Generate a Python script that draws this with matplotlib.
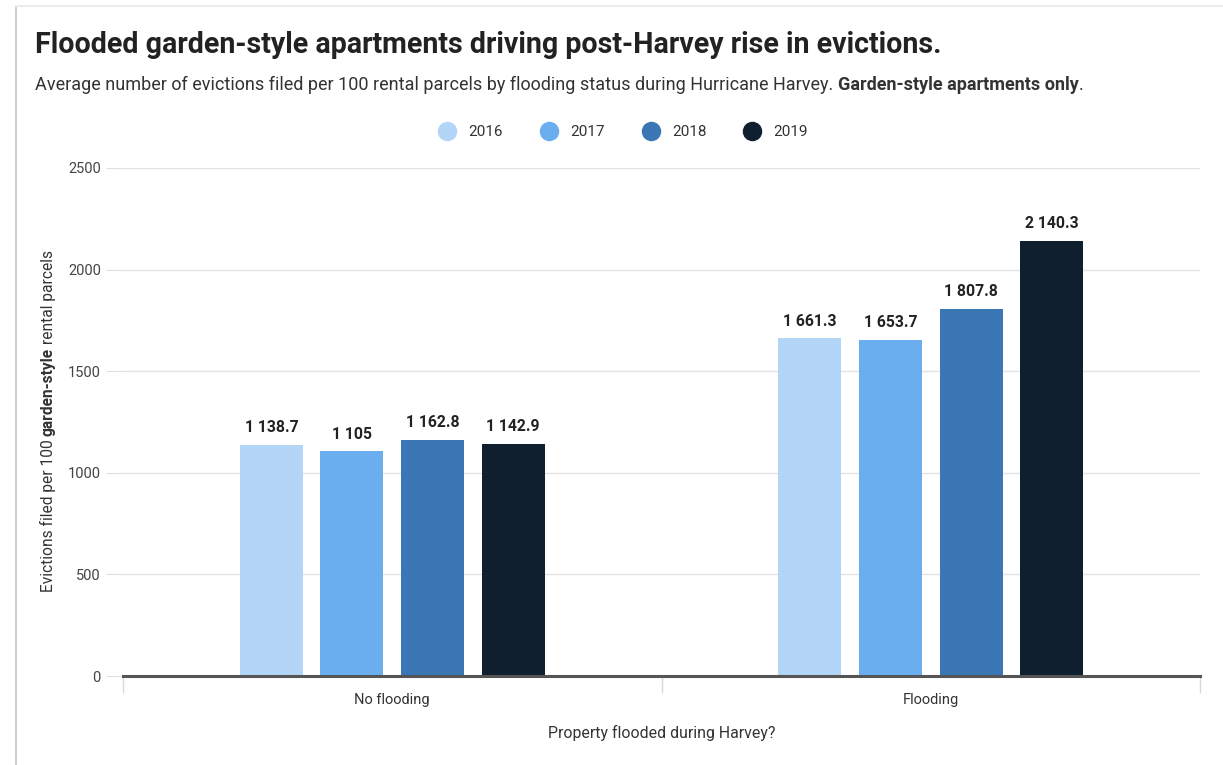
import matplotlib
matplotlib.use("Agg")
import matplotlib.pyplot as plt
from matplotlib.lines import Line2D
import numpy as np

categories = ["No flooding", "Flooding"]
years = ["2016", "2017", "2018", "2019"]
values = {
    "2016": [1138.7, 1661.3],
    "2017": [1105.0, 1653.7],
    "2018": [1162.8, 1807.8],
    "2019": [1142.9, 2140.3],
}
colors = ["#b3d5f7", "#6aaef0", "#3a77b4", "#0f1f30"]
yticks = [0, 500, 1000, 1500, 2000, 2500]

plt.rcParams["font.family"] = ["Roboto", "DejaVu Sans"]

W, H = 1223, 765
fig = plt.figure(figsize=(W / 100, H / 100), dpi=100)
ax = fig.add_axes([123 / W, 1 - 676 / H, (1200 - 123) / W, (676 - 168) / H])

def fmt(v):
    s = f"{v:,.1f}".replace(",", " ")
    if s.endswith(".0"):
        s = s[:-2]
    return s

x = np.arange(len(categories))
step = 0.1495
bw = 0.117
for i, (yr, c) in enumerate(zip(years, colors)):
    pos = x + (i - 1.5) * step
    bars = ax.bar(pos, values[yr], width=bw, color=c, zorder=3)
    for b, v in zip(bars, values[yr]):
        ax.annotate(fmt(v), (b.get_x() + b.get_width() / 2, v), xytext=(0, 7),
                    textcoords="offset points", ha="center", va="bottom",
                    fontsize=11.3, fontweight="bold", color="#222222")

ax.set_xlim(-0.5, 1.5)
ax.set_ylim(0, 2500)
ax.set_yticks(yticks)
ax.set_yticklabels([str(t) for t in yticks], fontsize=10.5, color="#444444")
ax.tick_params(axis="y", length=12, color="#e0e0e0", pad=4)
ax.grid(axis="y", color="#e3e3e3", linewidth=1, zorder=0)
for sp in ["top", "right", "left"]:
    ax.spines[sp].set_visible(False)
ax.spines["bottom"].set_color("#555555")
ax.spines["bottom"].set_linewidth(2.2)
ax.spines["bottom"].set_zorder(5)
ax.set_xticks([-0.5, 0.5, 1.5], minor=False)
ax.set_xticklabels([])
ax.tick_params(axis="x", length=12, color="#d8d8d8", width=1)
ax.set_xticks(x, minor=True)
ax.set_xticklabels(categories, minor=True, fontsize=10.5, color="#333333")
ax.tick_params(axis="x", which="minor", length=0, pad=12)
ax.set_xlabel("Property flooded during Harvey?", fontsize=11.4, color="#333333", labelpad=13)

# Title and subtitle
fig.text(35 / W, 1 - 45 / H, "Flooded garden-style apartments driving post-Harvey rise in evictions.",
         fontsize=20.6, fontweight="bold", color="#222222", va="center", ha="left")

fig.canvas.draw()
renderer = fig.canvas.get_renderer()

def place_segments(x0, y0, segs, rotation=0, **kw):
    cur = x0 if rotation == 0 else y0
    for txt, wt in segs:
        if rotation == 0:
            t = fig.text(cur, y0, txt, fontweight=wt, rotation=0, ha="left", va="center", **kw)
        else:
            t = fig.text(x0, cur, txt, fontweight=wt, rotation=90, ha="center", va="bottom", **kw)
        bb = t.get_window_extent(renderer)
        if rotation == 0:
            cur += bb.width / W
        else:
            cur += bb.height / H
    return cur

place_segments(35 / W, 1 - 85 / H,
               [("Average number of evictions filed per 100 rental parcels by flooding status during Hurricane Harvey. ", "normal"),
                ("Garden-style apartments only", "bold"), (".", "normal")],
               fontsize=13.0, color="#333333")

# y-label with bold segment, vertical
segs = [("Evictions filed per 100 ", "normal"), ("garden-style", "bold"), (" rental parcels", "normal")]
ylab_fs = 11.2
total = 0
for txt, wt in segs:
    t = fig.text(0, 0, txt, fontweight=wt, rotation=90, fontsize=ylab_fs)
    total += t.get_window_extent(renderer).height
    t.remove()
ystart = (1 - 421 / H) - total / 2 / H
place_segments(48 / W, ystart, segs, rotation=90, fontsize=ylab_fs, color="#333333")

# Legend
handles = [Line2D([], [], marker="o", linestyle="", markersize=13, markerfacecolor=c,
                  markeredgecolor=c) for c in colors]
fig.legend(handles, years, loc="center", bbox_to_anchor=(620 / W, 1 - 132 / H), ncol=4,
           frameon=False, fontsize=11, handletextpad=0.4, columnspacing=2.0,
           labelcolor="#333333")

# Card frame
fig.add_artist(Line2D([16 / W, 16 / W], [0, 1 - 8 / H], transform=fig.transFigure,
                      color="#d0d0d0", linewidth=1.5))
fig.add_artist(Line2D([16 / W, 1], [1 - 6 / H, 1 - 6 / H], transform=fig.transFigure,
                      color="#ececec", linewidth=1.5))

fig.savefig("out.png", dpi=100)
